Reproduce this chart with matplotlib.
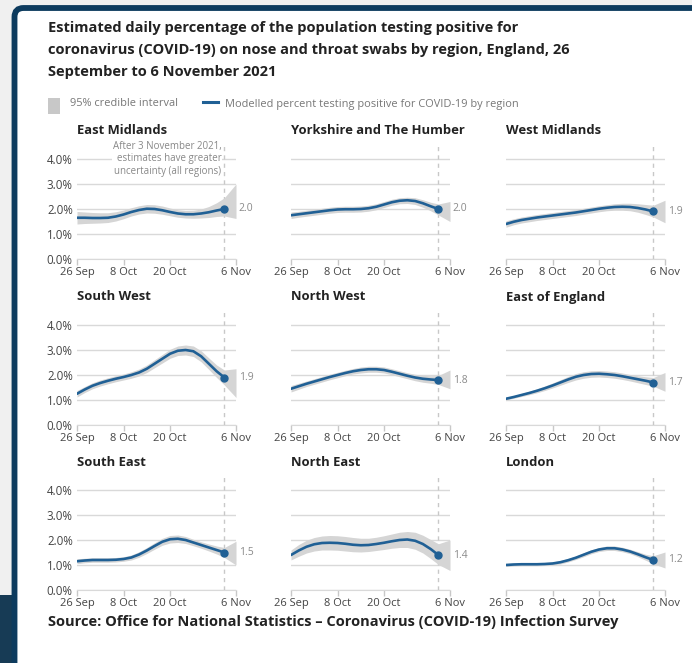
import matplotlib
matplotlib.use("Agg")
import matplotlib.pyplot as plt
from matplotlib.patches import Rectangle, FancyBboxPatch
from matplotlib.lines import Line2D

plt.rcParams['font.family'] = ['Open Sans', 'DejaVu Sans']

# days after 26 Sep 2021
days = [0, 2, 4, 6, 8, 10, 12, 14, 16, 18, 20, 22, 24, 26, 28, 30, 32, 34, 36, 38]
band_days = days + [41]
tick_days = [0, 12, 24, 41]
tick_labels = ['26 Sep', '8 Oct', '20 Oct', '6 Nov']
y_ticks = [0, 1, 2, 3, 4]
y_labels = ['0.0%', '1.0%', '2.0%', '3.0%', '4.0%']

regions = ['East Midlands', 'Yorkshire and The Humber', 'West Midlands',
           'South West', 'North West', 'East of England',
           'South East', 'North East', 'London']

em_mid = [1.65, 1.65, 1.64, 1.64, 1.65, 1.70, 1.78, 1.88, 1.96, 2.01, 2.00, 1.95, 1.88, 1.82, 1.79, 1.79, 1.82, 1.87, 1.94, 2.00]
em_lo = [1.40, 1.42, 1.43, 1.44, 1.46, 1.52, 1.61, 1.72, 1.80, 1.84, 1.83, 1.79, 1.73, 1.67, 1.64, 1.63, 1.64, 1.66, 1.70, 1.72, 1.62]
em_hi = [1.90, 1.88, 1.86, 1.85, 1.85, 1.89, 1.96, 2.05, 2.13, 2.18, 2.17, 2.12, 2.04, 1.97, 1.94, 1.95, 2.00, 2.10, 2.25, 2.45, 3.00]

yh_mid = [1.75, 1.79, 1.83, 1.87, 1.91, 1.95, 1.98, 1.99, 1.99, 2.00, 2.03, 2.09, 2.18, 2.27, 2.33, 2.35, 2.32, 2.23, 2.11, 2.00]
yh_lo = [1.62, 1.67, 1.71, 1.75, 1.79, 1.83, 1.86, 1.87, 1.87, 1.88, 1.91, 1.97, 2.06, 2.15, 2.21, 2.22, 2.18, 2.07, 1.93, 1.76, 1.50]
yh_hi = [1.88, 1.91, 1.95, 1.99, 2.03, 2.07, 2.10, 2.11, 2.11, 2.12, 2.15, 2.21, 2.30, 2.39, 2.45, 2.47, 2.45, 2.37, 2.27, 2.20, 2.30]

wm_mid = [1.40, 1.49, 1.56, 1.61, 1.66, 1.70, 1.74, 1.78, 1.82, 1.86, 1.91, 1.96, 2.01, 2.05, 2.08, 2.09, 2.08, 2.04, 1.98, 1.90]
wm_lo = [1.27, 1.37, 1.44, 1.49, 1.54, 1.58, 1.62, 1.66, 1.70, 1.74, 1.79, 1.84, 1.89, 1.93, 1.95, 1.95, 1.93, 1.87, 1.78, 1.68, 1.45]
wm_hi = [1.53, 1.61, 1.68, 1.73, 1.78, 1.82, 1.86, 1.90, 1.94, 1.98, 2.03, 2.08, 2.13, 2.17, 2.21, 2.23, 2.23, 2.21, 2.18, 2.15, 2.35]

sw_mid = [1.25, 1.42, 1.57, 1.68, 1.77, 1.85, 1.92, 2.00, 2.10, 2.25, 2.45, 2.65, 2.85, 2.97, 3.00, 2.95, 2.75, 2.45, 2.15, 1.90]
sw_lo = [1.12, 1.30, 1.45, 1.56, 1.65, 1.73, 1.80, 1.87, 1.96, 2.10, 2.29, 2.48, 2.67, 2.78, 2.80, 2.74, 2.53, 2.22, 1.90, 1.60, 1.10]
sw_hi = [1.38, 1.54, 1.69, 1.80, 1.89, 1.97, 2.04, 2.13, 2.24, 2.40, 2.61, 2.82, 3.03, 3.16, 3.20, 3.16, 2.97, 2.68, 2.40, 2.20, 2.25]

nw_mid = [1.45, 1.55, 1.65, 1.74, 1.83, 1.92, 2.00, 2.08, 2.15, 2.20, 2.23, 2.23, 2.20, 2.13, 2.05, 1.97, 1.90, 1.85, 1.82, 1.80]
nw_lo = [1.32, 1.43, 1.54, 1.63, 1.72, 1.81, 1.89, 1.97, 2.04, 2.08, 2.11, 2.11, 2.08, 2.01, 1.93, 1.85, 1.77, 1.71, 1.67, 1.62, 1.45]
nw_hi = [1.58, 1.67, 1.76, 1.85, 1.94, 2.03, 2.11, 2.19, 2.26, 2.32, 2.35, 2.35, 2.32, 2.25, 2.17, 2.09, 2.03, 1.99, 1.97, 1.98, 2.20]

ee_mid = [1.05, 1.12, 1.20, 1.28, 1.37, 1.47, 1.58, 1.70, 1.82, 1.93, 2.00, 2.04, 2.05, 2.03, 2.00, 1.95, 1.89, 1.83, 1.77, 1.70]
ee_lo = [1.00, 1.07, 1.14, 1.21, 1.29, 1.38, 1.48, 1.59, 1.70, 1.80, 1.87, 1.91, 1.92, 1.90, 1.87, 1.82, 1.76, 1.69, 1.62, 1.55, 1.35]
ee_hi = [1.10, 1.17, 1.26, 1.35, 1.45, 1.56, 1.68, 1.81, 1.94, 2.06, 2.13, 2.17, 2.18, 2.16, 2.13, 2.08, 2.02, 1.97, 1.93, 1.90, 2.10]

se_mid = [1.15, 1.18, 1.20, 1.20, 1.20, 1.21, 1.24, 1.30, 1.42, 1.58, 1.76, 1.93, 2.03, 2.05, 2.00, 1.90, 1.80, 1.70, 1.60, 1.50]
se_lo = [1.05, 1.09, 1.11, 1.11, 1.11, 1.12, 1.15, 1.20, 1.31, 1.46, 1.63, 1.79, 1.88, 1.90, 1.86, 1.77, 1.67, 1.56, 1.44, 1.30, 1.00]
se_hi = [1.25, 1.27, 1.29, 1.29, 1.29, 1.30, 1.33, 1.40, 1.53, 1.70, 1.89, 2.07, 2.18, 2.20, 2.14, 2.03, 1.93, 1.84, 1.76, 1.70, 1.95]

ne_mid = [1.40, 1.58, 1.73, 1.83, 1.88, 1.89, 1.88, 1.85, 1.81, 1.79, 1.80, 1.84, 1.89, 1.95, 2.00, 2.02, 1.97, 1.84, 1.64, 1.40]
ne_lo = [1.20, 1.35, 1.48, 1.56, 1.60, 1.60, 1.59, 1.56, 1.53, 1.52, 1.54, 1.58, 1.62, 1.67, 1.70, 1.70, 1.63, 1.48, 1.26, 1.02, 0.78]
ne_hi = [1.60, 1.82, 1.99, 2.10, 2.16, 2.18, 2.17, 2.14, 2.10, 2.07, 2.07, 2.11, 2.17, 2.24, 2.31, 2.34, 2.31, 2.19, 2.02, 1.85, 2.00]

ld_mid = [1.00, 1.02, 1.03, 1.03, 1.03, 1.04, 1.06, 1.11, 1.19, 1.29, 1.41, 1.53, 1.62, 1.67, 1.67, 1.62, 1.54, 1.43, 1.31, 1.20]
ld_lo = [0.94, 0.96, 0.97, 0.97, 0.97, 0.98, 1.00, 1.04, 1.12, 1.22, 1.33, 1.45, 1.54, 1.58, 1.58, 1.53, 1.45, 1.33, 1.19, 1.05, 0.88]
ld_hi = [1.06, 1.08, 1.09, 1.09, 1.09, 1.10, 1.12, 1.18, 1.26, 1.36, 1.49, 1.61, 1.70, 1.76, 1.76, 1.71, 1.63, 1.53, 1.43, 1.37, 1.52]

series = [(em_mid, em_lo, em_hi), (yh_mid, yh_lo, yh_hi), (wm_mid, wm_lo, wm_hi),
          (sw_mid, sw_lo, sw_hi), (nw_mid, nw_lo, nw_hi), (ee_mid, ee_lo, ee_hi),
          (se_mid, se_lo, se_hi), (ne_mid, ne_lo, ne_hi), (ld_mid, ld_lo, ld_hi)]

W, H = 692, 663
BLUE = '#206095'
BAND = '#d5d5d5'
GRID = '#d9d9d9'
DARK = '#222222'
GREY = '#8a8a8a'


def fx(x):
    return x / W


def fy(y):
    return 1 - y / H


fig = plt.figure(figsize=(W / 100, H / 100), dpi=100)
fig.patch.set_facecolor('#f0f0f0')

# card with navy border, plus the dark block at bottom left
card = FancyBboxPatch((14.5, -30), 760, H - 8 + 30, boxstyle='round,pad=0,rounding_size=9',
                      transform=None, facecolor='white', edgecolor='#0d3b5e', linewidth=4.2, zorder=-10)
fig.add_artist(card)
fig.add_artist(Rectangle((0, 0), 12, H - 595, transform=None, facecolor='#173b55',
                         edgecolor='none', zorder=-11))

title = ['Estimated daily percentage of the population testing positive for',
         'coronavirus (COVID-19) on nose and throat swabs by region, England, 26',
         'September to 6 November 2021']
for i, line in enumerate(title):
    fig.text(fx(48), fy(28 + 22 * i), line, fontsize=10.5, fontweight='bold',
             color=DARK, va='center')

# legend
fig.add_artist(Rectangle((fx(48), fy(114)), fx(12), 16 / H, transform=fig.transFigure,
                         facecolor='#c8c8c8', edgecolor='none'))
fig.text(fx(70), fy(104), '95% credible interval', fontsize=7.9, color='#777777', va='center')
fig.add_artist(Line2D([fx(203), fx(218)], [fy(102), fy(102)], transform=fig.transFigure,
                      color=BLUE, lw=2.2))
fig.text(fx(225), fy(104), 'Modelled percent testing positive for COVID-19 by region',
         fontsize=7.9, color='#777777', va='center')

col_left = [77, 291, 506]
row_base = [259, 425, 590]
row_title = [131, 297, 463]
pw = 159
unit = 25
ytop = 4.55

for k, (name, (mid, lo, hi)) in enumerate(zip(regions, series)):
    r, c = divmod(k, 3)
    ax = fig.add_axes([fx(col_left[c]), fy(row_base[r]), pw / W, ytop * unit / H])
    ax.fill_between(band_days, lo, hi, color=BAND, lw=0, zorder=2)
    ax.plot(days, mid, color=BLUE, lw=1.9, zorder=3, solid_capstyle='round')
    ax.plot(days[-1], mid[-1], 'o', color=BLUE, ms=5, zorder=4)
    ax.axvline(38, color='#c8c8c8', lw=1, ls=(0, (3, 3)), zorder=1)
    ax.annotate(f'{mid[-1]:.1f}', xy=(41, mid[-1]), xytext=(2, 0), textcoords='offset points',
                fontsize=7.5, color=GREY, va='center', annotation_clip=False)

    ax.set_xlim(0, 41)
    ax.set_ylim(0, ytop)
    ax.set_yticks(y_ticks)
    ax.set_yticklabels(y_labels if c == 0 else [])
    ax.set_xticks(tick_days)
    ax.set_xticklabels(tick_labels)
    ax.grid(axis='y', color=GRID, lw=1, zorder=0)
    ax.set_axisbelow(True)
    for s in ['top', 'right', 'left']:
        ax.spines[s].set_visible(False)
    ax.spines['bottom'].set_color(GRID)
    ax.tick_params(axis='y', length=0, pad=3, labelsize=8.3, labelcolor='#444444')
    ax.tick_params(axis='x', length=4, width=1, color='#c8c8c8', pad=1.5,
                   labelsize=8, labelcolor='#444444')

    fig.text(fx(col_left[c]), fy(row_title[r]), name, fontsize=9.4, fontweight='bold',
             color=DARK, va='center')

    if k == 0:
        ax.text(37.2, 4.0, 'After 3 November 2021,\nestimates have greater\nuncertainty (all regions)',
                ha='right', va='center', fontsize=7.0, color='#888888', linespacing=1.2,
                bbox=dict(facecolor='white', edgecolor='none', pad=0.5), zorder=5)

fig.text(fx(48), fy(622), 'Source: Office for National Statistics \u2013 Coronavirus (COVID-19) Infection Survey',
         fontsize=10.5, fontweight='bold', color=DARK, va='center')

fig.savefig('out.png', dpi=100)
